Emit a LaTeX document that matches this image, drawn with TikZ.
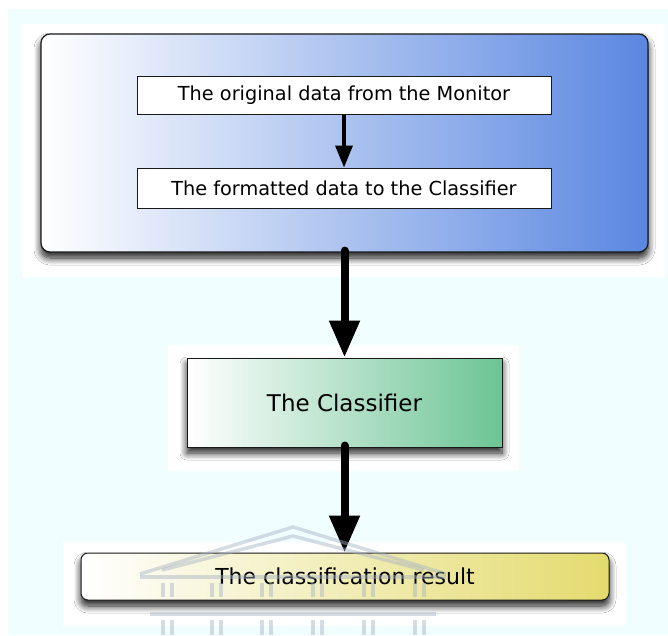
\documentclass[tikz,border=0pt]{standalone}
\usepackage{fontspec}
\setmainfont{DejaVu Sans}
\usetikzlibrary{arrows.meta,shadows.blur}

\definecolor{paleCyan}{RGB}{240,254,255}
\definecolor{groupBlue}{RGB}{90,135,224}
\definecolor{stageGreen}{RGB}{108,196,148}
\definecolor{resultYellow}{RGB}{228,219,110}
\definecolor{edgeDark}{RGB}{25,25,25}
\definecolor{crestGray}{RGB}{165,178,196}

\tikzset{
  panel/.style={fill=white, draw=none},
  softshadow/.style={blur shadow={shadow xshift=0pt, shadow yshift=-6pt,
      shadow blur radius=7pt, shadow blur steps=10, shadow opacity=90}},
  databox/.style={draw=edgeDark, line width=1pt, fill=white, inner sep=0pt,
      minimum width=414pt, minimum height=38pt,
      font=\fontsize{19.3}{21}\selectfont},
  thinarrow/.style={draw=black, line width=3.5pt,
      -{Triangle[length=22pt,width=17pt]}},
  thickarrow/.style={draw=black, line width=8pt, line cap=round,
      -{Triangle[length=37pt,width=29pt]}},
  crest/.style={draw=crestGray, line width=3.5pt, opacity=0.45},
}

\begin{document}
\begin{tikzpicture}[x=1pt, y=-1pt]
  % canvas and backdrop
  \useasboundingbox (0,0) rectangle (668,635);
  \fill[white] (0,0) rectangle (668,635);
  \fill[paleCyan] (8,9) rectangle (668,635);

  % white panels behind each stage
  \fill[panel] (22,24) rectangle (666,277);
  \fill[panel] (168,345) rectangle (519,471);
  \fill[panel] (63,542) rectangle (626,626);

  % preprocessing group
  \node[draw=edgeDark, line width=1.2pt, rounded corners=9pt,
        left color=white, right color=groupBlue, softshadow,
        minimum width=607pt, minimum height=218pt, inner sep=0pt]
        (grp) at (344.5,143) {};

  \node[databox] (orig) at (344,95.5) {The original data from the Monitor};
  \node[databox, minimum height=40pt] (fmt) at (344,188)
        {The formatted data to the Classifier};

  % classifier
  \node[draw=edgeDark, line width=1pt, left color=white, right color=stageGreen,
        softshadow, minimum width=315pt, minimum height=89pt, inner sep=0pt,
        font=\fontsize{23}{26}\selectfont]
        (cls) at (344.5,402.5) {The Classifier};

  % result
  \node[draw=edgeDark, line width=1pt, rounded corners=7pt,
        left color=white, right color=resultYellow, softshadow,
        minimum width=528pt, minimum height=47pt, inner sep=0pt,
        font=\fontsize{22}{25}\selectfont]
        (res) at (345,576.5) {The classification result};

  % connectors
  \draw[thinarrow] (orig.south) -- (fmt.north);
  \draw[thickarrow] ([yshift=2pt]grp.south) -- (cls.north);
  \draw[thickarrow] ([yshift=2pt]cls.south) -- (cls.south |- res.north);

  % faint building crest
  \begin{scope}[crest]
    \draw (140,574) -- (293,527) -- (446,574);
    \draw (162,570) -- (293,536) -- (424,570);
    \draw (140,577) -- (446,577);
    \foreach \cx in {163,212,262,313,364,415} {
      \draw (\cx,583) -- (\cx,597);
      \draw (\cx+9,583) -- (\cx+9,597);
      \draw (\cx,620) -- (\cx,635);
      \draw (\cx+9,620) -- (\cx+9,635);
    }
    \draw (150,614) -- (436,614);
  \end{scope}
\end{tikzpicture}
\end{document}
